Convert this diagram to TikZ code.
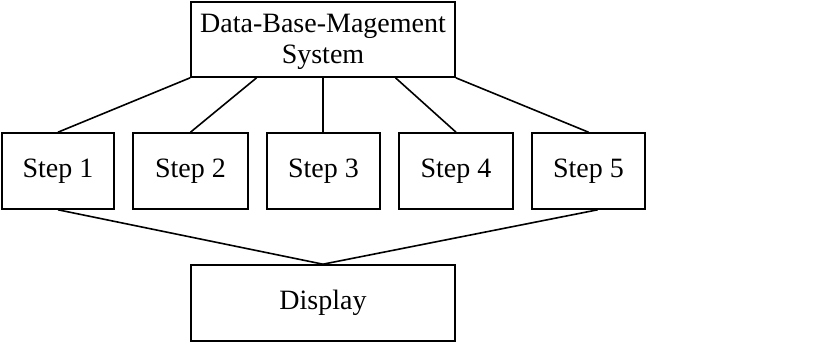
\documentclass[tikz,border=0pt]{standalone}
\usepackage{fontspec}
\setmainfont{Liberation Serif}
\usetikzlibrary{calc}
\begin{document}
\begin{tikzpicture}[x=1pt,y=-1pt,
  box/.style={draw=black,line width=1.6pt,inner sep=0pt,align=center,
    font=\fontsize{28}{31}\selectfont},
  conn/.style={draw=black,line width=1.6pt}]
\useasboundingbox[fill=white] (0,0) rectangle (830,344);
\node[box,minimum width=264pt,minimum height=75pt] (dbms) at (323,39.5) {};
\node[align=center,inner sep=0pt,font=\fontsize{28}{31}\selectfont] (dbmstext) at (323,41.5) {Data-Base-Magement\\System};
\node[box,minimum width=112pt,minimum height=76pt] (s1) at (58,171) {Step 1};
\node[box,minimum width=115pt,minimum height=76pt] (s2) at (190.5,171) {Step 2};
\node[box,minimum width=113pt,minimum height=76pt] (s3) at (323.5,171) {Step 3};
\node[box,minimum width=114pt,minimum height=76pt] (s4) at (456,171) {Step 4};
\node[box,minimum width=113pt,minimum height=76pt] (s5) at (588.5,171) {Step 5};
\node[box,minimum width=264pt,minimum height=76pt] (disp) at (323,303) {Display};
\draw[conn] (dbms.south west) -- (s1.north);
\draw[conn] ($(dbms.south west)!0.25!(dbms.south east)$) -- (s2.north);
\draw[conn] (dbms.south) -- (dbms.south |- s3.north);
\draw[conn] ($(dbms.south west)!0.773!(dbms.south east)$) -- (s4.north);
\draw[conn] (dbms.south east) -- (s5.north);
\draw[conn] (s1.south) -- (disp.north);
\draw[conn] ($(s5.south west)!0.58!(s5.south east)$) -- (disp.north);
\end{tikzpicture}
\end{document}
